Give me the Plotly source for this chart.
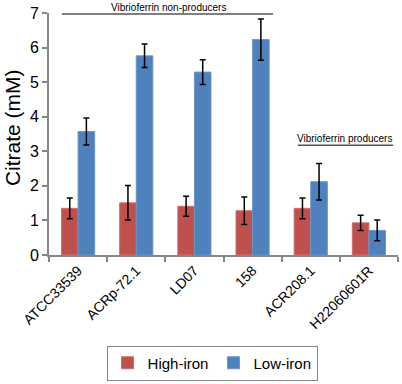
import plotly.graph_objects as go

strains = ["ATCC33539", "ACRp-72.1", "LD07", "158", "ACR208.1", "H22060601R"]
high_iron = [1.35, 1.51, 1.41, 1.28, 1.35, 0.93]
high_iron_err = [0.30, 0.50, 0.29, 0.40, 0.30, 0.22]
low_iron = [3.57, 5.76, 5.29, 6.23, 2.12, 0.71]
low_iron_err = [0.39, 0.34, 0.36, 0.60, 0.53, 0.30]

RED = "#C0504D"
BLUE = "#4F81BD"
AX = "#868686"
FONT = "Liberation Sans"

fig = go.Figure()
fig.add_bar(x=strains, y=high_iron, name="High-iron",
            marker=dict(color=RED, line=dict(color="#CF6E6B", width=1)),
            error_y=dict(type="data", array=high_iron_err, color="black", thickness=1.5, width=3))
fig.add_bar(x=strains, y=low_iron, name="Low-iron",
            marker=dict(color=BLUE, line=dict(color="#6A95CB", width=1)),
            error_y=dict(type="data", array=low_iron_err, color="black", thickness=1.5, width=3))

fig.update_layout(
    width=402, height=384,
    margin=dict(l=49, r=4, t=13, b=120),
    plot_bgcolor="white", paper_bgcolor="white",
    barmode="group", bargap=0.43, bargroupgap=0,
    font=dict(family=FONT, color="black"),
    showlegend=True,
    legend=dict(orientation="h", x=0.165, y=-0.374, xanchor="left", yanchor="top",
                bordercolor=AX, borderwidth=1, font=dict(size=15),
                tracegroupgap=0),
    xaxis=dict(showline=True, linecolor=AX, linewidth=2, ticks="outside", tickson="boundaries",
               tickcolor=AX, ticklen=5, tickwidth=2, tickangle=-45, tickfont=dict(size=14),
               showgrid=False),
    yaxis=dict(range=[0, 7], dtick=1, showline=True, linecolor=AX, linewidth=2, ticks="outside",
               tickcolor=AX, ticklen=5, tickwidth=2, tickfont=dict(size=16), showgrid=False,
               zeroline=False),
    shapes=[
        dict(type="line", xref="paper", yref="paper", x0=0.037, x1=0.642, y0=0.996, y1=0.996,
             line=dict(color="#555555", width=1.5)),
        dict(type="line", xref="paper", yref="paper", x0=0.713, x1=0.986, y0=0.454, y1=0.454,
             line=dict(color="#555555", width=1.5)),
    ],
    annotations=[
        dict(text="Citrate (mM)", xref="paper", yref="paper", x=-0.105, y=0.526, textangle=-90,
             showarrow=False, font=dict(size=21), xanchor="center", yanchor="middle"),
        dict(text="Vibrioferrin non-producers", xref="paper", yref="paper", x=0.341, y=1.024,
             showarrow=False, font=dict(size=10), xanchor="center", yanchor="middle"),
        dict(text="Vibrioferrin producers", xref="paper", yref="paper", x=0.848, y=0.482,
             showarrow=False, font=dict(size=10), xanchor="center", yanchor="middle"),
    ],
)

fig.write_html("out.html", config={"displayModeBar": False},
               post_script="document.body.style.margin='0';")
